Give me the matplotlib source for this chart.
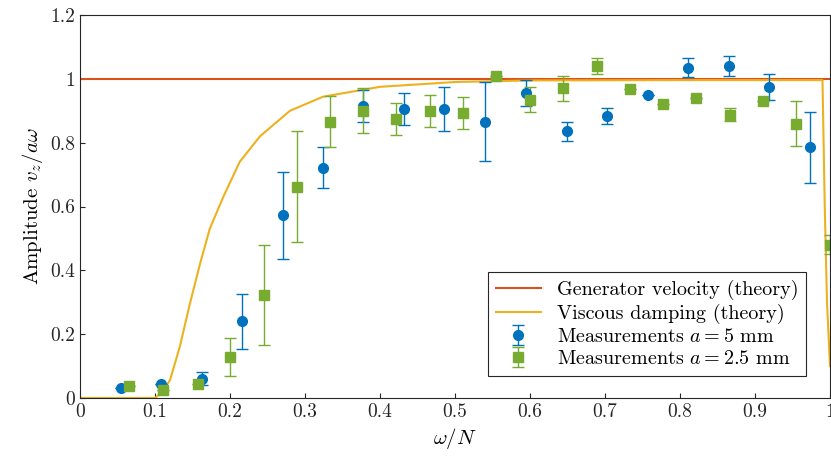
import matplotlib
matplotlib.use("Agg")
import matplotlib.pyplot as plt

plt.rcParams['font.family'] = 'serif'
plt.rcParams['font.serif'] = ['cmr10', 'DejaVu Serif']
plt.rcParams['mathtext.fontset'] = 'cm'
plt.rcParams['axes.formatter.use_mathtext'] = True

# viscous damping theory curve
visc_x = [0, 0.10, 0.11, 0.12, 0.133, 0.147, 0.16, 0.173, 0.191, 0.213, 0.24, 0.28,
          0.324, 0.40, 0.5, 0.6, 0.8, 0.99, 0.993, 0.996, 1.0]
visc_y = [0, 0, 0.02, 0.056, 0.16, 0.30, 0.42, 0.53, 0.63, 0.74, 0.82, 0.90,
          0.944, 0.975, 0.99, 0.995, 0.996, 0.996, 0.6, 0.3, 0.1]

# measurements a = 5 mm
b_x = [0.054, 0.108, 0.162, 0.216, 0.27, 0.324, 0.378, 0.432, 0.486, 0.54,
       0.595, 0.649, 0.703, 0.757, 0.811, 0.865, 0.919, 0.973]
b_y = [0.03, 0.045, 0.06, 0.24, 0.572, 0.722, 0.915, 0.905, 0.905, 0.866,
       0.955, 0.835, 0.885, 0.95, 1.035, 1.04, 0.975, 0.785]
b_e = [0, 0, 0.02, 0.085, 0.135, 0.065, 0.05, 0.05, 0.07, 0.125,
       0.04, 0.03, 0.025, 0, 0.03, 0.03, 0.04, 0.11]

# measurements a = 2.5 mm
g_x = [0.065, 0.11, 0.157, 0.2, 0.245, 0.29, 0.333, 0.378, 0.422, 0.467, 0.511,
       0.555, 0.6, 0.644, 0.689, 0.733, 0.778, 0.822, 0.867, 0.911, 0.955, 1.0]
g_y = [0.037, 0.025, 0.045, 0.128, 0.323, 0.662, 0.865, 0.9, 0.875, 0.9, 0.893,
       1.01, 0.935, 0.97, 1.04, 0.968, 0.922, 0.94, 0.888, 0.932, 0.86, 0.48]
g_e = [0, 0, 0, 0.06, 0.157, 0.173, 0.08, 0.07, 0.05, 0.05, 0.05,
       0, 0.04, 0.04, 0.025, 0, 0, 0, 0.02, 0, 0.07, 0.03]

blue = '#0072BD'
green = '#77AC30'
orange = '#D95319'
yellow = '#EDB120'

fig = plt.figure(figsize=(8.31, 4.58), dpi=100)
ax = fig.add_axes([80/831, 60/458, 750/831, 383/458])

ax.plot([0, 1], [1, 1], color=orange, lw=1.5, label='Generator velocity (theory)')
ax.plot(visc_x, visc_y, color=yellow, lw=1.5, label='Viscous damping (theory)')
ax.errorbar(b_x, b_y, yerr=b_e, fmt='o', color=blue, ms=7, capsize=4, elinewidth=1,
            label='Measurements $a = 5$ mm')
ax.errorbar(g_x, g_y, yerr=g_e, fmt='s', color=green, ms=7, capsize=4, elinewidth=1,
            label='Measurements $a = 2.5$ mm')

ax.set_xlim(0, 1)
ax.set_ylim(0, 1.2)
ax.set_xticks([0, 0.1, 0.2, 0.3, 0.4, 0.5, 0.6, 0.7, 0.8, 0.9, 1])
ax.set_xticklabels(['0', '0.1', '0.2', '0.3', '0.4', '0.5', '0.6', '0.7', '0.8', '0.9', '1'])
ax.set_yticks([0, 0.2, 0.4, 0.6, 0.8, 1, 1.2])
ax.set_yticklabels(['0', '0.2', '0.4', '0.6', '0.8', '1', '1.2'])
ax.tick_params(direction='in', labelsize=14, colors='#262626')
for s in ax.spines.values():
    s.set_color('#262626')
    s.set_linewidth(0.8)
ax.set_xlabel(r'$\omega/N$', fontsize=15)
ax.set_ylabel(r'Amplitude $v_z/a\omega$', fontsize=15)

h, l = ax.get_legend_handles_labels()
leg = ax.legend(h, l, loc='lower right', fontsize=14.5, fancybox=False,
                edgecolor='#262626', framealpha=1, bbox_to_anchor=(0.982, 0.03),
                labelspacing=0.2, handlelength=2.2)
leg.get_frame().set_linewidth(0.8)

fig.savefig('out.png', dpi=100)
